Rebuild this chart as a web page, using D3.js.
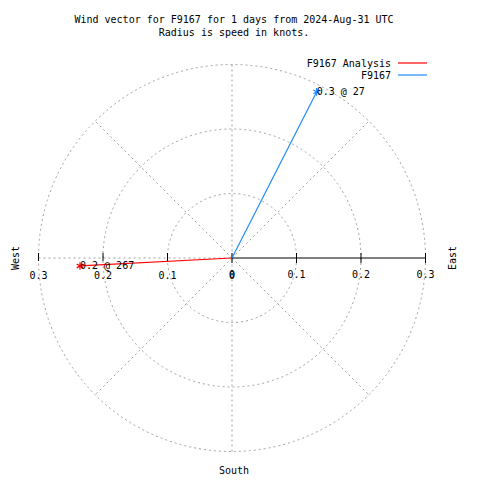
<!DOCTYPE html>
<html><head><meta charset="utf-8">
<script src="https://cdn.jsdelivr.net/npm/d3@7"></script>
<style>body{margin:0;background:#fff}svg{display:block}text{font-family:"DejaVu Sans Mono",monospace;font-size:10px;fill:#000}</style>
</head><body><svg id="c" width="480" height="480"></svg>
<script>
const titleLines = ["Wind vector for F9167 for 1 days from 2024-Aug-31 UTC", "Radius is speed in knots."];
const seriesNames = ["F9167 Analysis", "F9167"];
const seriesColors = ["#ff0000", "#1e8cff"];
const speeds = [0.236, 0.289];       // knots
const directions = [267, 27];        // degrees clockwise from north
const ringTicks = [0.1, 0.2, 0.3];
const axisTicks = [0, 0.1, 0.2, 0.3];
const tickLabels = ["0", "0.1", "0.2", "0.3"];
const compass = ["West", "East", "South"];

const svg = d3.select("#c");
const cx = 232, cy = 258;
const r = d3.scaleLinear().domain([0, 0.3]).range([0, 193.5]);
const grid = "#a0a0a0";
const dash = "2,3";

// title
svg.selectAll("text.title").data(titleLines).join("text")
  .attr("x", 234).attr("y", (d, i) => 23 + i * 13).attr("text-anchor", "middle").text(d => d);

const g = svg.append("g").attr("transform", `translate(${cx},${cy})`);

// rings
g.selectAll("circle.ring").data(ringTicks).join("circle")
  .attr("r", d => r(d)).attr("fill", "none").attr("stroke", grid)
  .attr("stroke-width", 1).attr("stroke-dasharray", dash);

// spokes (diagonals + vertical + left horizontal)
const R = r(0.3);
const spokeAngles = [45, 135, 225, 315];
g.selectAll("line.spoke").data(spokeAngles).join("line")
  .attr("x1", 0).attr("y1", 0)
  .attr("x2", d => R * Math.sin(d * Math.PI / 180))
  .attr("y2", d => -R * Math.cos(d * Math.PI / 180))
  .attr("stroke", grid).attr("stroke-dasharray", dash);
g.append("line").attr("x1", 0).attr("y1", -R).attr("x2", 0).attr("y2", R)
  .attr("stroke", grid).attr("stroke-dasharray", dash);
g.append("line").attr("x1", -R).attr("y1", 0).attr("x2", 0).attr("y2", 0)
  .attr("stroke", grid).attr("stroke-dasharray", dash);

// right axis (black)
g.append("line").attr("x1", 0).attr("y1", 0).attr("x2", R).attr("y2", 0)
  .attr("stroke", "#000").attr("stroke-width", 1.2);
g.selectAll("line.tr").data(axisTicks).join("line")
  .attr("x1", d => r(d)).attr("x2", d => r(d)).attr("y1", -5).attr("y2", 5)
  .attr("stroke", "#000");
g.selectAll("line.tl").data(axisTicks.slice(1)).join("line")
  .attr("x1", d => -r(d)).attr("x2", d => -r(d)).attr("y1", -5).attr("y2", 3)
  .attr("stroke", "#000");
g.selectAll("text.trl").data(axisTicks).join("text")
  .attr("x", d => r(d)).attr("y", 20).attr("text-anchor", "middle")
  .text((d, i) => tickLabels[i]);
g.selectAll("text.tll").data(axisTicks).join("text")
  .attr("x", d => -r(d)).attr("y", 21).attr("text-anchor", "middle")
  .text((d, i) => tickLabels[i]);

// compass labels
svg.append("text").attr("transform", `translate(19,${cy}) rotate(-90)`)
  .attr("text-anchor", "middle").text(compass[0]);
svg.append("text").attr("transform", `translate(456,${cy}) rotate(-90)`)
  .attr("text-anchor", "middle").text(compass[1]);
svg.append("text").attr("x", 234).attr("y", 474).attr("text-anchor", "middle").text(compass[2]);

// vectors
const pts = speeds.map((s, i) => {
  const a = directions[i] * Math.PI / 180;
  return { x: r(s) * Math.sin(a), y: -r(s) * Math.cos(a), s, d: directions[i], c: seriesColors[i] };
});
g.selectAll("line.vec").data(pts).join("line")
  .attr("x1", 0).attr("y1", 0).attr("x2", d => d.x).attr("y2", d => d.y)
  .attr("stroke", d => d.c).attr("stroke-width", 1.2);
const star = d3.symbol().type(d3.symbolAsterisk).size(40);
g.selectAll("path.star").data(pts).join("path")
  .attr("d", star).attr("transform", d => `translate(${d.x},${d.y})`)
  .attr("fill", "none").attr("stroke", d => d.c).attr("stroke-width", 1.2);
g.selectAll("text.vl").data(pts).join("text")
  .attr("x", d => d.x).attr("y", d => d.y + 3)
  .text(d => `${d.s.toFixed(1)} @ ${d.d}`);

// legend
seriesNames.forEach((n, i) => {
  const y = 63 + i * 12;
  svg.append("text").attr("x", 391).attr("y", y + 4).attr("text-anchor", "end").text(n);
  svg.append("line").attr("x1", 398).attr("x2", 427).attr("y1", y).attr("y2", y)
    .attr("stroke", seriesColors[i]).attr("stroke-width", 1.2);
});
</script></body></html>
